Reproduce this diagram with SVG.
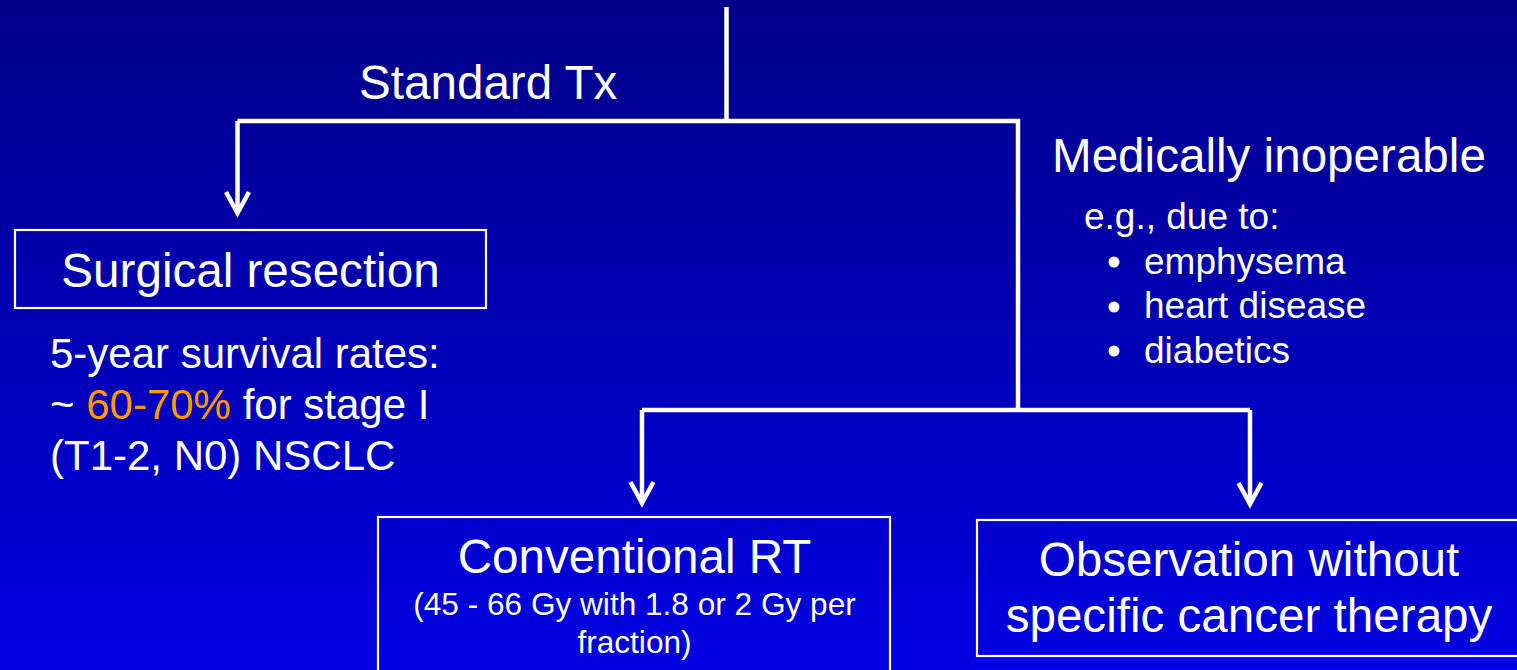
<svg xmlns="http://www.w3.org/2000/svg" width="1517" height="670" viewBox="0 0 1517 670">
  <defs>
    <linearGradient id="bg" x1="0" y1="0" x2="0" y2="1">
      <stop offset="0" stop-color="#000088"/>
      <stop offset="1" stop-color="#0000E2"/>
    </linearGradient>
    <marker id="chev" viewBox="-28 -16 32 32" markerWidth="32" markerHeight="32" refX="0" refY="0" orient="auto" markerUnits="userSpaceOnUse" overflow="visible">
      <path d="M-21,-11.5 L0,0 L-21,11.5" fill="none" stroke="#FFFFFF" stroke-width="4.5" stroke-linejoin="miter" stroke-miterlimit="10"/>
    </marker>
    <style>
      .t { font-family: "Liberation Sans", Arial, sans-serif; fill: #FFFFFF; }
      .big { font-size: 47.6px; }
      .mid { font-size: 37px; }
      .surv { font-size: 42px; }
      .small { font-size: 31.6px; }
      .box { fill: none; stroke: #FFFFFF; stroke-width: 2.2; }
      .conn { fill: none; stroke: #FFFFFF; stroke-width: 4.5; stroke-linejoin: miter; }
      .orange { fill: #FF9900; }
    </style>
  </defs>
  <rect x="0" y="0" width="1517" height="670" fill="url(#bg)"/>

  <g id="connectors">
    <path class="conn" d="M726.5 7 V121"/>
    <path class="conn" d="M237.5 121 H1018 V410"/>
    <path class="conn" d="M642 410 H1250"/>
    <path class="conn" d="M237.5 121 V213" marker-end="url(#chev)"/>
    <path class="conn" d="M642 410 V503" marker-end="url(#chev)"/>
    <path class="conn" d="M1250 410 V504" marker-end="url(#chev)"/>
  </g>

  <g id="label-standard">
    <text class="t big" x="359" y="99">Standard Tx</text>
  </g>

  <g id="node-surgical">
    <rect class="box" x="15" y="230" width="471" height="78"/>
    <text class="t big" x="250.5" y="287" text-anchor="middle">Surgical resection</text>
  </g>

  <g id="note-survival">
    <text class="t surv" x="50" y="368">5-year survival rates:</text>
    <text class="t surv" x="50" y="419">~ <tspan class="orange">60-70%</tspan> for stage I</text>
    <text class="t surv" x="50" y="470">(T1-2, N0) NSCLC</text>
  </g>

  <g id="label-inoperable">
    <text class="t big" x="1052" y="172">Medically inoperable</text>
    <text class="t mid" x="1084" y="229">e.g., due to:</text>
    <circle cx="1114" cy="262" r="5.5" fill="#FFFFFF"/>
    <text class="t mid" x="1144" y="274">emphysema</text>
    <circle cx="1114" cy="307" r="5.5" fill="#FFFFFF"/>
    <text class="t mid" x="1144" y="318">heart disease</text>
    <circle cx="1114" cy="351" r="5.5" fill="#FFFFFF"/>
    <text class="t mid" x="1144" y="363">diabetics</text>
  </g>

  <g id="node-conventional">
    <rect class="box" x="378" y="517" width="512" height="170"/>
    <text class="t big" x="634.5" y="573" text-anchor="middle">Conventional RT</text>
    <text class="t small" x="634.5" y="615" text-anchor="middle">(45 - 66 Gy with 1.8 or 2 Gy per</text>
    <text class="t small" x="634.5" y="653" text-anchor="middle">fraction)</text>
  </g>

  <g id="node-observation">
    <rect class="box" x="977" y="520" width="544" height="136"/>
    <text class="t big" x="1249" y="576" text-anchor="middle">Observation without</text>
    <text class="t big" x="1249" y="632" text-anchor="middle">specific cancer therapy</text>
  </g>
</svg>
